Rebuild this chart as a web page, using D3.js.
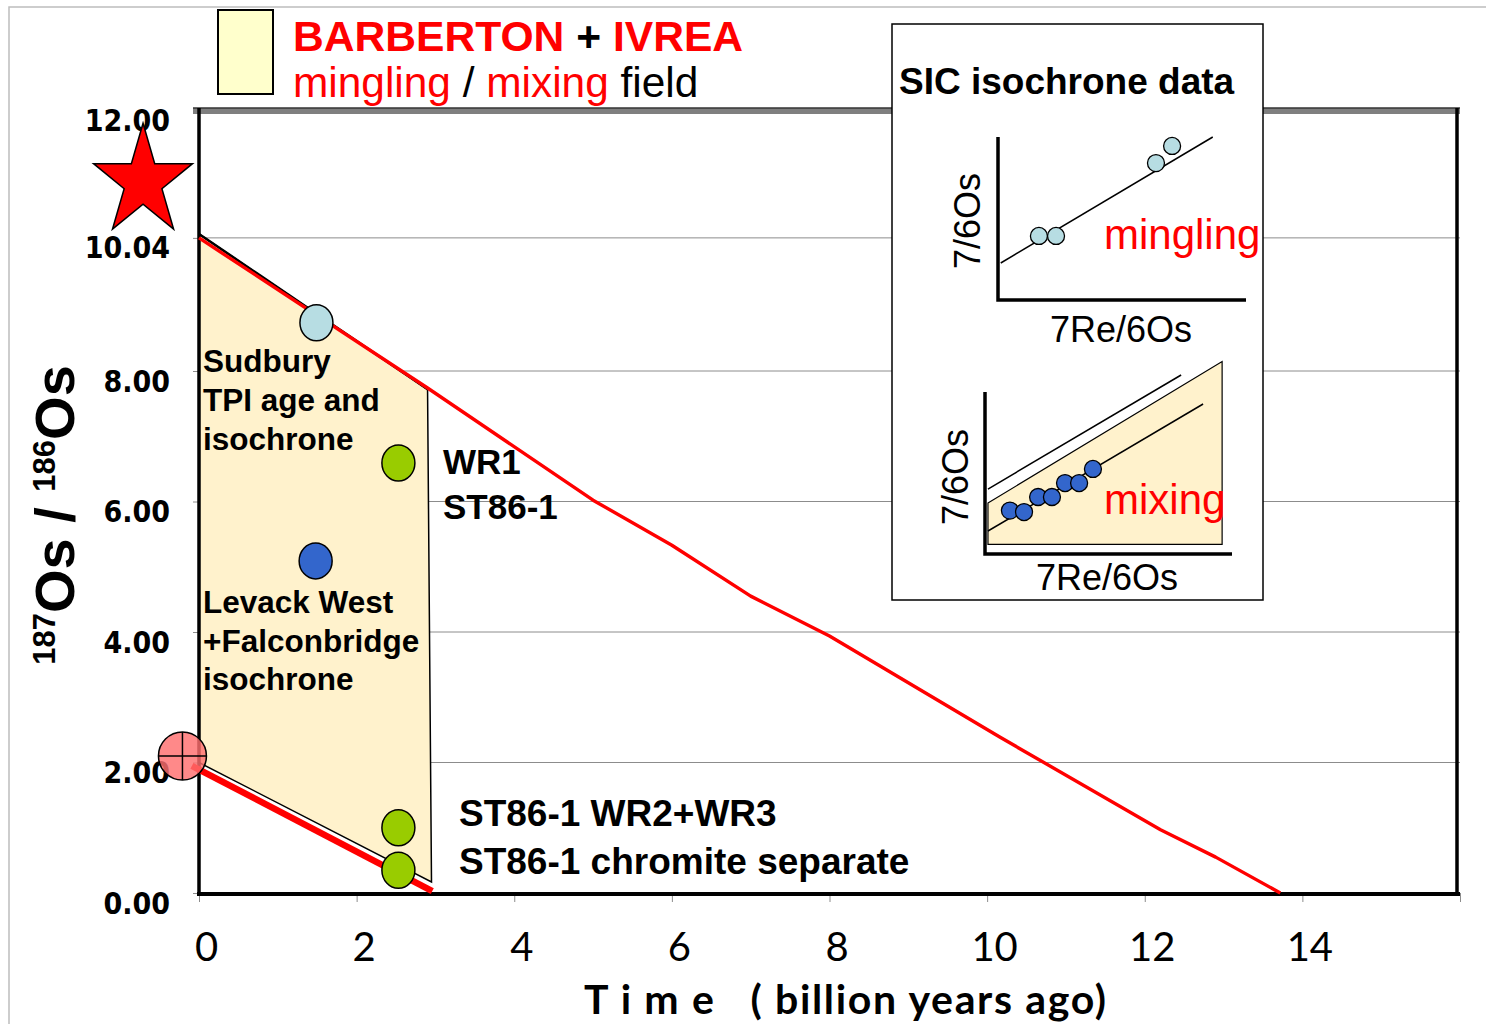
<!DOCTYPE html>
<html>
<head>
<meta charset="utf-8">
<script src="https://cdn.jsdelivr.net/npm/d3@7"></script>
<style>
  html, body { margin: 0; padding: 0; background: #fff; }
  svg { display: block; }
  text { white-space: pre; }
</style>
</head>
<body>
<svg id="chart" width="1486" height="1024"></svg>
<script>
// ---- axis ticks ----
const xTickValues = [0, 2, 4, 6, 8, 10, 12, 14, 16];
const xTickLabels = ["0", "2", "4", "6", "8", "10", "12", "14"];
const yTickValues = [0, 2, 4, 6, 8, 10.04, 12];
const yTickLabels = ["0.00", "2.00", "4.00", "6.00", "8.00", "10.04", "12.00"];

// ---- evolution line (red) : age in Ga vs 187Os/186Os ----
const decayAge = [0, 2.9, 5.0, 6.0, 7.0, 8.0, 10.16, 12.2, 12.9, 13.72];
const decayOs  = [10.04, 7.74, 6.02, 5.33, 4.55, 3.94, 2.39, 0.97, 0.55, 0.0];

// ---- lower (chondritic) evolution line ----
const lowAge = [-0.09, 2.96];
const lowOs  = [1.95, 0.03];

// ---- mingling / mixing field outline ----
const fieldAge = [0, 2.9, 2.95, 0];
const fieldOs  = [10.1, 7.72, 0.17, 2.0];

// ---- samples ----
const sampleNames = ["Sudbury TPI", "WR1 ST86-1", "Levack West", "ST86-1 WR2+WR3", "ST86-1 chromite"];
const sampleAge   = [1.49, 2.53, 1.48, 2.53, 2.53];
const sampleOs    = [8.74, 6.59, 5.09, 1.00, 0.35];
const sampleFill  = ["#b7dde3", "#99cc00", "#3366cc", "#99cc00", "#99cc00"];

// ---- initial ratio marker and star ----
const initialAge = -0.21, initialOs = 2.10;
const starAge = -0.71, starOs = 10.90;

// ---- SIC isochrone schematic (arbitrary 0-10 units) ----
const minglingX = [1.65, 2.34, 6.37, 7.02];
const minglingY = [3.93, 3.93, 8.40, 9.45];
const minglingLineX = [0.11, 8.66];
const minglingLineY = [2.27, 10.0];

const mixingX = [1.01, 1.58, 2.15, 2.71, 3.24, 3.81, 4.37];
const mixingY = [2.68, 2.59, 3.52, 3.52, 4.38, 4.38, 5.25];
const mixingLineX = [0.12, 8.83];
const mixingLineY = [1.42, 9.26];
const mixingUpperX = [0.12, 7.94];
const mixingUpperY = [4.01, 11.05];
const mixingFieldX = [0.12, 9.6, 9.6, 0.12];
const mixingFieldY = [3.15, 11.88, 0.59, 0.59];

const ARIAL = "'Liberation Sans', Arial, sans-serif";
const CALIBRI = "Lato, 'Open Sans', sans-serif";

const svg = d3.select("#chart");

// outer frame
svg.append("rect").attr("x", 9).attr("y", 7).attr("width", 1490).attr("height", 1030)
  .attr("fill", "none").attr("stroke", "#bdbdbd").attr("stroke-width", 1.5);

const x = d3.scaleLinear().domain([0, 16]).range([199, 1460]);
const y = d3.scaleLinear().domain([0, 12]).range([893, 110]);

// gridlines
svg.append("g").selectAll("line")
  .data(yTickValues.filter(v => v > 0 && v < 12))
  .join("line")
  .attr("x1", x(0)).attr("x2", x(16))
  .attr("y1", d => y(d)).attr("y2", d => y(d))
  .attr("stroke", "#8c8c8c").attr("stroke-width", 1);

// y axis (ticks + labels)
const yAxis = d3.axisLeft(y).tickValues(yTickValues).tickSize(6)
  .tickFormat((d, i) => yTickLabels[i]);
const gy = svg.append("g").attr("transform", `translate(${x(0)},0)`).call(yAxis);
gy.select(".domain").remove();
gy.selectAll(".tick line").attr("stroke", "#8c8c8c").attr("stroke-width", 1);
gy.selectAll(".tick text")
  .attr("x", -29).attr("dy", 20)
  .attr("font-family", "'DejaVu Sans Condensed', 'Liberation Sans', sans-serif")
  .attr("font-weight", "bold").attr("font-size", 30).attr("fill", "#000");

// x axis
const xAxis = d3.axisBottom(x).tickValues(xTickValues).tickSize(9)
  .tickFormat((d, i) => xTickLabels[i] || "");
const gx = svg.append("g").attr("transform", `translate(0,${y(0)})`).call(xAxis);
gx.select(".domain").remove();
gx.selectAll(".tick line").attr("stroke", "#8c8c8c").attr("stroke-width", 1);
gx.selectAll(".tick text")
  .attr("x", 7).attr("y", 40).attr("dy", "0.71em")
  .attr("font-family", CALIBRI).attr("font-size", 40).attr("fill", "#000");

// top border (grey band with dark edge)
svg.append("rect").attr("x", x(0) - 6).attr("y", y(12) - 2).attr("width", x(16) - x(0) + 6).attr("height", 6)
  .attr("fill", "#7f7f7f");
svg.append("line").attr("x1", x(0) - 6).attr("x2", x(16)).attr("y1", y(12) - 2).attr("y2", y(12) - 2)
  .attr("stroke", "#333").attr("stroke-width", 1.5);

// mingling / mixing field
const fieldPts = fieldAge.map((a, i) => [x(a), y(fieldOs[i])]);
svg.append("path")
  .attr("d", d3.line()(fieldPts) + "Z")
  .attr("fill", "#fff2cc").attr("stroke", "#000").attr("stroke-width", 1.5);
svg.append("line")
  .attr("x1", fieldPts[0][0]).attr("y1", fieldPts[0][1])
  .attr("x2", fieldPts[1][0]).attr("y2", fieldPts[1][1])
  .attr("stroke", "#000").attr("stroke-width", 2.5);

// frame axes
svg.append("line").attr("x1", x(0)).attr("x2", x(0)).attr("y1", y(12) - 2).attr("y2", y(0) + 2)
  .attr("stroke", "#000").attr("stroke-width", 3.5);
svg.append("line").attr("x1", 1457).attr("x2", 1457).attr("y1", y(12) - 2).attr("y2", y(0) + 2)
  .attr("stroke", "#000").attr("stroke-width", 3.5);
svg.append("line").attr("x1", x(0) - 2).attr("x2", x(16)).attr("y1", y(0) + 1).attr("y2", y(0) + 1)
  .attr("stroke", "#000").attr("stroke-width", 4);

// red evolution line
svg.append("path")
  .attr("d", d3.line()(decayAge.map((a, i) => [x(a), y(decayOs[i])])))
  .attr("fill", "none").attr("stroke", "#ff0000").attr("stroke-width", 3.4)
  .attr("stroke-linejoin", "round");

// lower thick red line
svg.append("path")
  .attr("d", d3.line()(lowAge.map((a, i) => [x(a), y(lowOs[i])])))
  .attr("fill", "none").attr("stroke", "#ff0000").attr("stroke-width", 6.5);

// star
const starPts = d3.range(10).map(k => {
  const ang = -Math.PI / 2 + k * Math.PI / 5;
  const r = k % 2 === 0 ? 1 : 0.382;
  return [x(starAge) + 52 * r * Math.cos(ang), y(starOs) + 58.6 * r * Math.sin(ang)];
});
svg.append("path").attr("d", d3.line()(starPts) + "Z")
  .attr("fill", "#ff0000").attr("stroke", "#000").attr("stroke-width", 1.5)
  .attr("stroke-linejoin", "miter");

// sample markers
svg.append("g").selectAll("ellipse")
  .data(sampleNames)
  .join("ellipse")
  .attr("cx", (d, i) => x(sampleAge[i]))
  .attr("cy", (d, i) => y(sampleOs[i]))
  .attr("rx", 16.5).attr("ry", 18)
  .attr("fill", (d, i) => sampleFill[i])
  .attr("stroke", "#000").attr("stroke-width", 1.5);

// plot labels
const plotLabel = (lines, px, py, lh, size) => {
  const t = svg.append("text").attr("font-family", ARIAL).attr("font-weight", "bold")
    .attr("font-size", size).attr("fill", "#000");
  lines.forEach((s, i) => t.append("tspan").attr("x", px).attr("y", py + i * lh).text(s));
};
plotLabel(["Sudbury", "TPI age and", "isochrone"], 203, 372, 39, 31.5);
plotLabel(["Levack West", "+Falconbridge", "isochrone"], 203, 613, 38.5, 31.5);
plotLabel(["WR1", "ST86-1"], 443, 474, 45, 35);
plotLabel(["ST86-1 WR2+WR3", "ST86-1 chromite separate"], 459, 826, 48, 37);

// initial ratio marker (circle with cross)
const ix = x(initialAge), iy = y(initialOs), ir = 24;
svg.append("circle").attr("cx", ix).attr("cy", iy).attr("r", ir)
  .attr("fill", "#ff6f6f").attr("fill-opacity", 0.82)
  .attr("stroke", "#000").attr("stroke-width", 1.5);
svg.append("line").attr("x1", ix - ir).attr("x2", ix + ir).attr("y1", iy).attr("y2", iy)
  .attr("stroke", "#000").attr("stroke-width", 1.5);
svg.append("line").attr("x1", ix).attr("x2", ix).attr("y1", iy - ir).attr("y2", iy + ir)
  .attr("stroke", "#000").attr("stroke-width", 1.5);

// y axis title
const yt = svg.append("text")
  .attr("transform", "translate(74,515) rotate(-90)")
  .attr("text-anchor", "middle")
  .attr("font-family", ARIAL).attr("font-weight", "bold").attr("fill", "#000");
yt.append("tspan").attr("font-size", 31).attr("dy", -19).text("187");
yt.append("tspan").attr("font-size", 56).attr("dy", 19).text("Os / ");
yt.append("tspan").attr("font-size", 31).attr("dy", -19).text("186");
yt.append("tspan").attr("font-size", 56).attr("dy", 19).text("Os");

// x axis title
svg.append("text").attr("x", 584).attr("y", 1014)
  .attr("textLength", 522).attr("lengthAdjust", "spacing")
  .attr("font-family", CALIBRI).attr("font-weight", "bold").attr("font-size", 41)
  .attr("fill", "#000").text("T i m e   ( billion years ago)");

// legend
svg.append("rect").attr("x", 218).attr("y", 10).attr("width", 55).attr("height", 84)
  .attr("fill", "#ffffcc").attr("stroke", "#000").attr("stroke-width", 2);
const l1 = svg.append("text").attr("x", 293).attr("y", 51)
  .attr("font-family", ARIAL).attr("font-weight", "bold").attr("font-size", 42.6);
l1.append("tspan").attr("fill", "#ff0000").text("BARBERTON");
l1.append("tspan").attr("fill", "#000").text(" + ");
l1.append("tspan").attr("fill", "#ff0000").text("IVREA");
const l2 = svg.append("text").attr("x", 293).attr("y", 97)
  .attr("font-family", ARIAL).attr("font-size", 42.4);
l2.append("tspan").attr("fill", "#ff0000").text("mingling");
l2.append("tspan").attr("fill", "#000").text(" / ");
l2.append("tspan").attr("fill", "#ff0000").text("mixing");
l2.append("tspan").attr("fill", "#000").text(" field");

// ---- SIC isochrone inset ----
svg.append("rect").attr("x", 892).attr("y", 24).attr("width", 371).attr("height", 576)
  .attr("fill", "#fff").attr("stroke", "#000").attr("stroke-width", 1.5);
svg.append("text").attr("x", 899).attr("y", 94)
  .attr("font-family", ARIAL).attr("font-weight", "bold").attr("font-size", 37)
  .attr("fill", "#000").text("SIC isochrone data");

// upper panel: mingling
const ux = d3.scaleLinear().domain([0, 10]).range([998, 1246]);
const uy = d3.scaleLinear().domain([0, 10]).range([300, 137]);
svg.append("path")
  .attr("d", d3.line()(minglingLineX.map((v, i) => [ux(v), uy(minglingLineY[i])])))
  .attr("stroke", "#000").attr("stroke-width", 1.5).attr("fill", "none");
svg.append("path")
  .attr("d", `M${ux(0)},${uy(10)}V${uy(0)}H${ux(10)}`)
  .attr("stroke", "#000").attr("stroke-width", 3.5).attr("fill", "none");
svg.append("g").selectAll("circle").data(minglingX).join("circle")
  .attr("cx", d => ux(d)).attr("cy", (d, i) => uy(minglingY[i])).attr("r", 8.5)
  .attr("fill", "#b7dde3").attr("stroke", "#000").attr("stroke-width", 1.3);
svg.append("text").attr("transform", "translate(980,221) rotate(-90)").attr("text-anchor", "middle")
  .attr("font-family", ARIAL).attr("font-size", 36).attr("fill", "#000").text("7/6Os");
svg.append("text").attr("x", 1104).attr("y", 249)
  .attr("font-family", ARIAL).attr("font-size", 42).attr("fill", "#ff0000").text("mingling");
svg.append("text").attr("x", 1050).attr("y", 342)
  .attr("font-family", ARIAL).attr("font-size", 36).attr("fill", "#000").text("7Re/6Os");

// lower panel: mixing
const mx = d3.scaleLinear().domain([0, 10]).range([985, 1232]);
const my = d3.scaleLinear().domain([0, 10]).range([554, 392]);
svg.append("path")
  .attr("d", d3.line()(mixingFieldX.map((v, i) => [mx(v), my(mixingFieldY[i])])) + "Z")
  .attr("fill", "#fff2cc").attr("stroke", "#000").attr("stroke-width", 1.2);
svg.append("path")
  .attr("d", d3.line()(mixingUpperX.map((v, i) => [mx(v), my(mixingUpperY[i])])))
  .attr("stroke", "#000").attr("stroke-width", 1.5).attr("fill", "none");
svg.append("path")
  .attr("d", d3.line()(mixingLineX.map((v, i) => [mx(v), my(mixingLineY[i])])))
  .attr("stroke", "#000").attr("stroke-width", 1.5).attr("fill", "none");
svg.append("path")
  .attr("d", `M${mx(0)},${my(10)}V${my(0)}H${mx(10)}`)
  .attr("stroke", "#000").attr("stroke-width", 3.5).attr("fill", "none");
svg.append("g").selectAll("circle").data(mixingX).join("circle")
  .attr("cx", d => mx(d)).attr("cy", (d, i) => my(mixingY[i])).attr("r", 8.5)
  .attr("fill", "#3366cc").attr("stroke", "#000").attr("stroke-width", 1.3);
svg.append("text").attr("transform", "translate(968,477) rotate(-90)").attr("text-anchor", "middle")
  .attr("font-family", ARIAL).attr("font-size", 36).attr("fill", "#000").text("7/6Os");
svg.append("text").attr("x", 1104).attr("y", 514)
  .attr("font-family", ARIAL).attr("font-size", 42).attr("fill", "#ff0000").text("mixing");
svg.append("text").attr("x", 1036).attr("y", 590)
  .attr("font-family", ARIAL).attr("font-size", 36).attr("fill", "#000").text("7Re/6Os");
</script>
</body>
</html>
